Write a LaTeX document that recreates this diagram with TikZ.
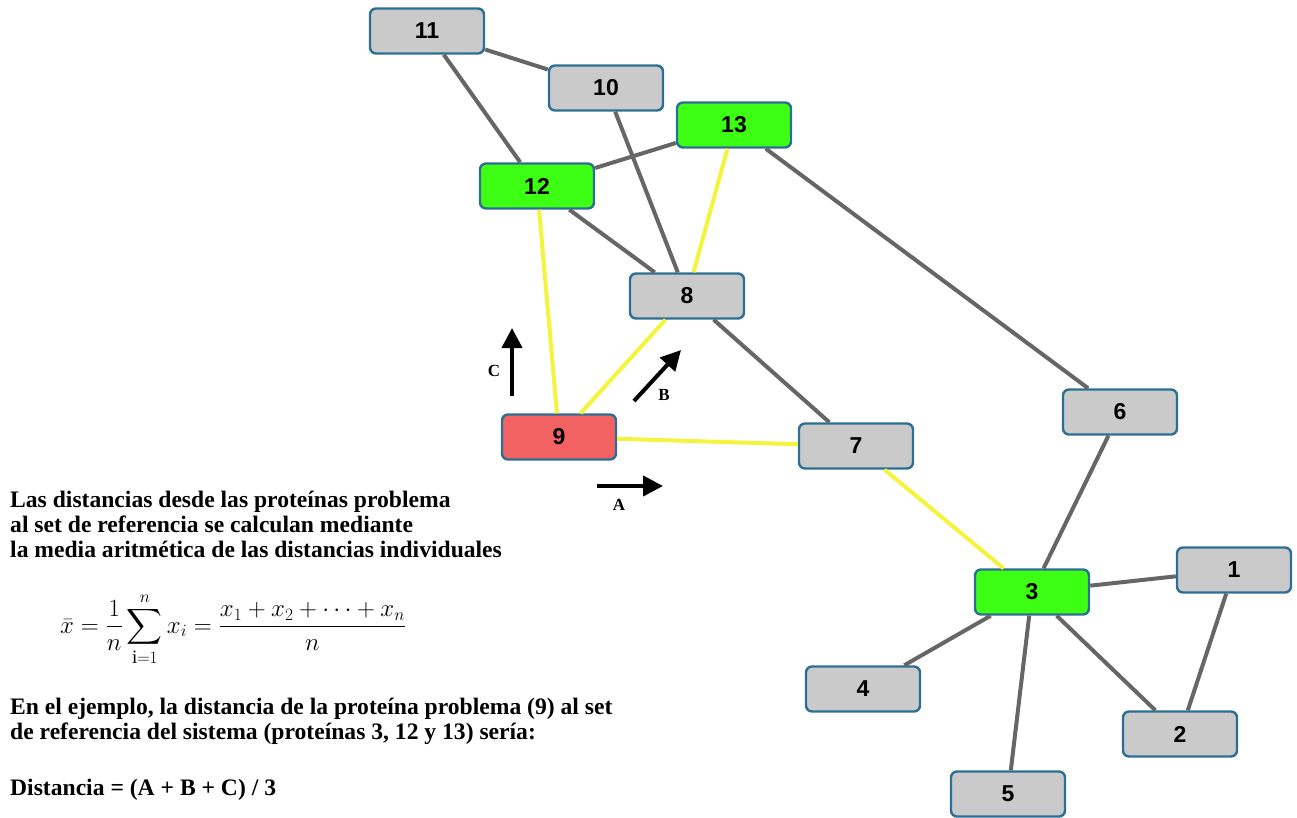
\documentclass[tikz,border=0pt]{standalone}
\usepackage{fontspec}
\usepackage{amsmath}
\setmainfont{Liberation Serif}
\newfontfamily\labelfont{Liberation Sans}
\usetikzlibrary{arrows.meta}

\definecolor{boxblue}{HTML}{2D6E94}
\definecolor{boxgray}{HTML}{CACACA}
\definecolor{boxgreen}{HTML}{3CFF14}
\definecolor{boxred}{HTML}{F26262}
\definecolor{edgegray}{HTML}{666666}
\definecolor{hlyellow}{HTML}{F4F43C}

\tikzset{
  protein/.style={draw=boxblue, line width=2.4pt, rounded corners=6pt,
    minimum width=114pt, minimum height=45pt, inner sep=0pt, fill=boxgray,
    font=\labelfont\bfseries\fontsize{23}{23}\selectfont},
  reference/.style={protein, fill=boxgreen},
  query/.style={protein, fill=boxred},
  link/.style={draw=edgegray, line width=4pt},
  closest/.style={draw=hlyellow, line width=4pt},
  measure/.style={draw=black, line width=4pt, -{Triangle[length=20pt,width=20pt]}},
  measurelabel/.style={font=\bfseries\fontsize{17}{17}\selectfont, inner sep=0pt},
  para/.style={anchor=base west, inner sep=0pt, font=\bfseries\fontsize{23.6}{23.6}\selectfont}
}

\begin{document}
\begin{tikzpicture}[x=1pt, y=-1pt]
  \useasboundingbox (0,0) rectangle (1297,818);

  % protein nodes
  \node[protein]   (p11) at (427,31)   {11};
  \node[protein]   (p10) at (606,88)   {10};
  \node[reference] (p13) at (734,125)  {13};
  \node[reference] (p12) at (537,186)  {12};
  \node[protein]   (p8)  at (687,296)  {8};
  \node[query]     (p9)  at (559,437)  {9};
  \node[protein]   (p7)  at (856,446)  {7};
  \node[protein]   (p6)  at (1120,412) {6};
  \node[reference] (p3)  at (1032,592) {3};
  \node[protein]   (p1)  at (1234,570) {1};
  \node[protein]   (p4)  at (863,689)  {4};
  \node[protein]   (p2)  at (1180,734) {2};
  \node[protein]   (p5)  at (1008,794) {5};

  % interactions
  \draw[link] (p11) -- (p10);
  \draw[link] (p11) -- (p12);
  \draw[link] (p12) -- (p13);
  \draw[link] (p10) -- (p8);
  \draw[link] (p12) -- (p8);
  \draw[link] (p13) -- (p6);
  \draw[link] (p8)  -- (p7);
  \draw[link] (p6)  -- (p3);
  \draw[link] (p3)  -- (p1);
  \draw[link] (p3)  -- (p4);
  \draw[link] (p3)  -- (p5);
  \draw[link] (p3)  -- (p2);
  \draw[link] (p1)  -- (p2);

  % shortest paths towards the reference set
  \draw[closest] (p13) -- (p8);
  \draw[closest] (p12) -- (p9);
  \draw[closest] (p9)  -- (p8);
  \draw[closest] (p9)  -- (p7);
  \draw[closest] (p7)  -- (p3);

  % distance arrows A, B, C
  \coordinate (aS) at (597,486);
  \coordinate (aE) at (663,486);
  \coordinate (bS) at (634,401);
  \coordinate (bE) at (681,350);
  \coordinate (cS) at (512,396);
  \coordinate (cE) at (512,328);
  \draw[measure] (aS) -- (aE);
  \draw[measure] (bS) -- (bE);
  \draw[measure] (cS) -- (cE);
  \node[measurelabel] (la) at (619,505) {A};
  \node[measurelabel] (lb) at (664,395) {B};
  \node[measurelabel] (lc) at (494,371) {C};

  % explanation
  \node[para] (t1) at (10,507) {Las distancias desde las proteínas problema};
  \node[para] (t2) at (10,532) {al set de referencia se calculan mediante};
  \node[para] (t3) at (10,557) {la media aritmética de las distancias individuales};
  \node[inner sep=0pt, anchor=west] (eq) at (60,629)
    {\fontsize{27}{32}\selectfont$\displaystyle \bar{x}=\frac{1}{n}\sum_{\mathrm{i}=1}^{n} x_i=\frac{x_1+x_2+\cdots+x_n}{n}$};
  \node[para] (t4) at (10,714) {En el ejemplo, la distancia de la proteína problema (9) al set};
  \node[para] (t5) at (10,739) {de referencia del sistema (proteínas 3, 12 y 13) sería:};
  \node[para] (t6) at (10,795) {Distancia = (A + B + C) / 3};
\end{tikzpicture}
\end{document}
